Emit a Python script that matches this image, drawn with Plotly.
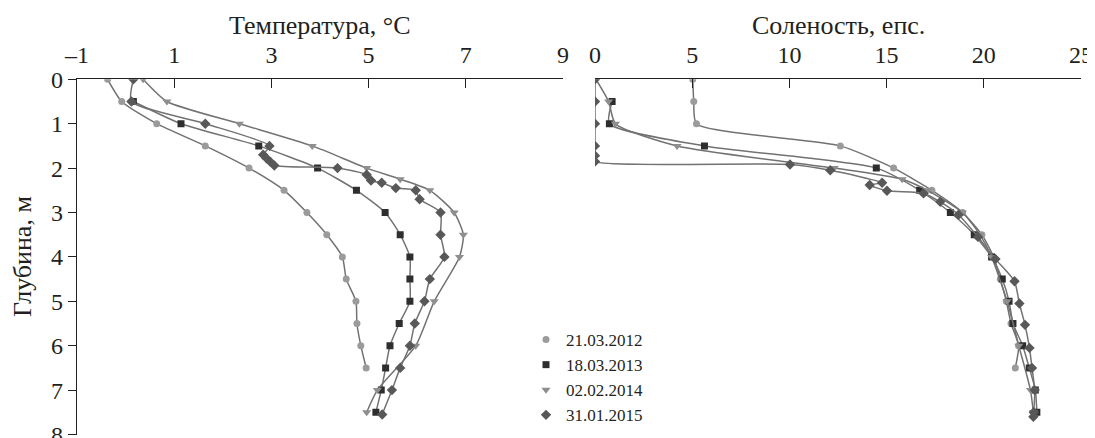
import plotly.graph_objects as go

# ---------------- data ----------------
series_names = ["21.03.2012", "18.03.2013", "02.02.2014", "31.01.2015"]

# temperature profiles (depth, m ; temperature, °C)
t_depth_2012 = [0, 0.5, 1, 1.5, 2, 2.5, 3, 3.5, 4, 4.5, 5, 5.5, 6, 6.5]
t_val_2012 = [-0.37, -0.08, 0.64, 1.64, 2.54, 3.26, 3.73, 4.14, 4.46, 4.54, 4.74, 4.76, 4.84, 4.95]

t_depth_2013 = [0.5, 1, 1.5, 2, 2.5, 3, 3.5, 4, 4.5, 5, 5.5, 6, 6.5, 7, 7.5]
t_val_2013 = [0.16, 1.14, 2.74, 3.95, 4.75, 5.34, 5.65, 5.85, 5.85, 5.85, 5.63, 5.44, 5.35, 5.26, 5.15]

t_depth_2014 = [0, 0.5, 1, 1.5, 2, 2.25, 2.5, 3, 3.5, 4, 5, 6, 7, 7.5]
t_val_2014 = [0.36, 0.85, 2.34, 3.84, 4.96, 5.65, 6.26, 6.76, 6.95, 6.87, 6.35, 5.97, 5.18, 4.96]

t_depth_2015 = [0, 0.5, 1, 1.5, 1.7, 1.78, 1.86, 1.94, 2.0, 2.15, 2.28, 2.33, 2.45, 2.5, 2.7,
                3, 3.5, 4, 4.5, 5, 5.5, 6, 6.5, 7, 7.55]
t_val_2015 = [0.16, 0.12, 1.64, 2.96, 2.83, 2.9, 2.98, 3.06, 4.36, 4.96, 5.05, 5.27, 5.56, 5.97, 6.05,
              6.48, 6.48, 6.56, 6.26, 6.15, 5.95, 5.85, 5.65, 5.48, 5.28]

# salinity profiles (depth, m ; salinity, psu)
s_depth_2012 = [0, 0.5, 1, 1.5, 2, 2.5, 3, 3.5, 4, 4.5, 5, 5.5, 6, 6.5]
s_val_2012 = [5.03, 5.08, 5.22, 12.62, 15.36, 17.33, 18.91, 19.9, 20.5, 20.85, 21.16, 21.4, 21.79, 21.62]

s_depth_2013 = [0.5, 1, 1.5, 2, 2.5, 3, 3.5, 4, 4.5, 5, 5.5, 6, 6.5, 7, 7.5]
s_val_2013 = [0.88, 0.74, 5.63, 14.47, 16.7, 18.28, 19.51, 20.4, 20.95, 21.3, 21.5, 22.0, 22.34, 22.65, 22.73]

s_depth_2014 = [0, 0.5, 1, 1.5, 2, 2.25, 2.5, 3, 3.5, 4, 5, 6, 7, 7.5]
s_val_2014 = [0.05, 0.7, 1.05, 4.22, 12.3, 15.8, 17.1, 18.9, 19.8, 20.4, 21.2, 21.8, 22.4, 22.55]

s_depth_2015 = [0, 0.5, 1, 1.5, 1.72, 1.85, 1.92, 2.05, 2.33, 2.38, 2.51, 2.57, 2.76, 3.05, 3.55,
                4.05, 4.55, 5.05, 5.53, 6.05, 6.5, 7.0, 7.5, 7.6]
s_val_2015 = [0, 0, 0, 0, 0, 0, 10.03, 12.1, 14.77, 14.13, 15.02, 16.9, 17.76, 18.7, 19.7,
              20.6, 21.58, 21.83, 22.12, 22.35, 22.48, 22.62, 22.57, 22.55]

temp_ticks = [-1, 1, 3, 5, 7, 9]
temp_ticktext = ["–1", "1", "3", "5", "7", "9"]
sal_ticks = [0, 5, 10, 15, 20, 25]
depth_ticks = [0, 1, 2, 3, 4, 5, 6, 7, 8]

title_temp = "Температура, °C"
title_sal = "Соленость, епс."
title_depth = "Глубина, м"

# ---------------- style ----------------
FONT = "Liberation Serif, Times New Roman, serif"
TXT = "#231f20"
LINE = "#727272"
styles = [
    dict(symbol="circle", size=7, color="#9b9b9b"),
    dict(symbol="square", size=7, color="#2e2e2e"),
    dict(symbol="triangle-down", size=8, color="#8e8e8e"),
    dict(symbol="diamond", size=8, color="#585858"),
]

temp_sets = [(t_val_2012, t_depth_2012), (t_val_2013, t_depth_2013),
             (t_val_2014, t_depth_2014), (t_val_2015, t_depth_2015)]
sal_sets = [(s_val_2012, s_depth_2012), (s_val_2013, s_depth_2013),
            (s_val_2014, s_depth_2014), (s_val_2015, s_depth_2015)]

fig = go.Figure()
for (xv, yv), st in zip(temp_sets, styles):
    fig.add_trace(go.Scatter(x=xv, y=yv, mode="lines+markers", xaxis="x", yaxis="y",
                             line=dict(color=LINE, width=1.5, shape="spline", smoothing=0.6),
                             marker=dict(symbol=st["symbol"], size=st["size"], color=st["color"]),
                             showlegend=False, hoverinfo="x+y"))
for (xv, yv), st in zip(sal_sets, styles):
    fig.add_trace(go.Scatter(x=xv, y=yv, mode="lines+markers", xaxis="x2", yaxis="y2",
                             line=dict(color=LINE, width=1.5, shape="spline", smoothing=0.6),
                             marker=dict(symbol=st["symbol"], size=st["size"], color=st["color"]),
                             showlegend=False, hoverinfo="x+y"))
# legend entries (markers only)
for name, st in zip(series_names, styles):
    fig.add_trace(go.Scatter(x=[None], y=[None], mode="markers", xaxis="x", yaxis="y",
                             marker=dict(symbol=st["symbol"], size=st["size"], color=st["color"]),
                             name=name, showlegend=True))

# the page body has an 8px margin, so the figure is drawn 8px in from the window corner
OFF = 8
W, H = 1095 - OFF, 438 - OFF
left_dom = [(77 - OFF) / W, (563 - OFF) / W]
right_dom = [(595 - OFF) / W, (1081 - OFF) / W]
y_top = 79.3 - OFF
y_bot = 79.3 + 8 * 44.4 - OFF
y_dom = [1 - y_bot / H, 1 - y_top / H]

TICK_FS = 24
TITLE_FS = 26
axis_common = dict(showgrid=False, zeroline=False, showline=True, linecolor="#231f20", linewidth=1.3,
                   tickcolor="#231f20", tickwidth=1.3, automargin=False, ticklabeloverflow="allow",
                   tickfont=dict(family=FONT, size=TICK_FS, color=TXT))

title_font = dict(family=FONT, size=TITLE_FS, color=TXT)
annotations = [
    dict(text=title_temp, x=(left_dom[0] + left_dom[1]) / 2, y=1 - (25 - OFF) / H, xref="paper", yref="paper",
         xanchor="center", yanchor="middle", showarrow=False, font=title_font),
    dict(text=title_sal, x=(right_dom[0] + right_dom[1]) / 2, y=1 - (25 - OFF) / H, xref="paper", yref="paper",
         xanchor="center", yanchor="middle", showarrow=False, font=title_font),
    dict(text=title_depth, x=(23 - OFF) / W, y=(y_dom[0] + y_dom[1]) / 2, xref="paper", yref="paper",
         xanchor="center", yanchor="middle", textangle=-90, showarrow=False, font=title_font),
]

fig.update_layout(
    width=W, height=H,
    margin=dict(l=0, r=0, t=0, b=0, autoexpand=False),
    paper_bgcolor="white", plot_bgcolor="white",
    font=dict(family=FONT, color=TXT),
    xaxis=dict(domain=left_dom, range=[-1, 9], side="top", tickvals=temp_ticks, ticktext=temp_ticktext,
               ticks="inside", ticklen=9, ticklabelstandoff=6, **axis_common),
    yaxis=dict(domain=y_dom, range=[8, 0], tickvals=depth_ticks, ticks="outside", ticklen=8,
               **axis_common),
    xaxis2=dict(domain=right_dom, range=[0, 25], side="top", tickvals=sal_ticks, anchor="y2",
                ticks="inside", ticklen=9, ticklabelstandoff=6, **axis_common),
    yaxis2=dict(domain=y_dom, range=[8, 0], anchor="x2", showline=False, showticklabels=False,
                ticks="", showgrid=False, zeroline=False, automargin=False),
    legend=dict(x=(526 - OFF) / W, y=1 - (322 - OFF) / H, xanchor="left", yanchor="top",
                font=dict(family=FONT, size=17, color=TXT), bgcolor="rgba(0,0,0,0)",
                itemwidth=30, tracegroupgap=0),
    annotations=annotations,
    showlegend=True,
)

fig.write_html("out.html")
